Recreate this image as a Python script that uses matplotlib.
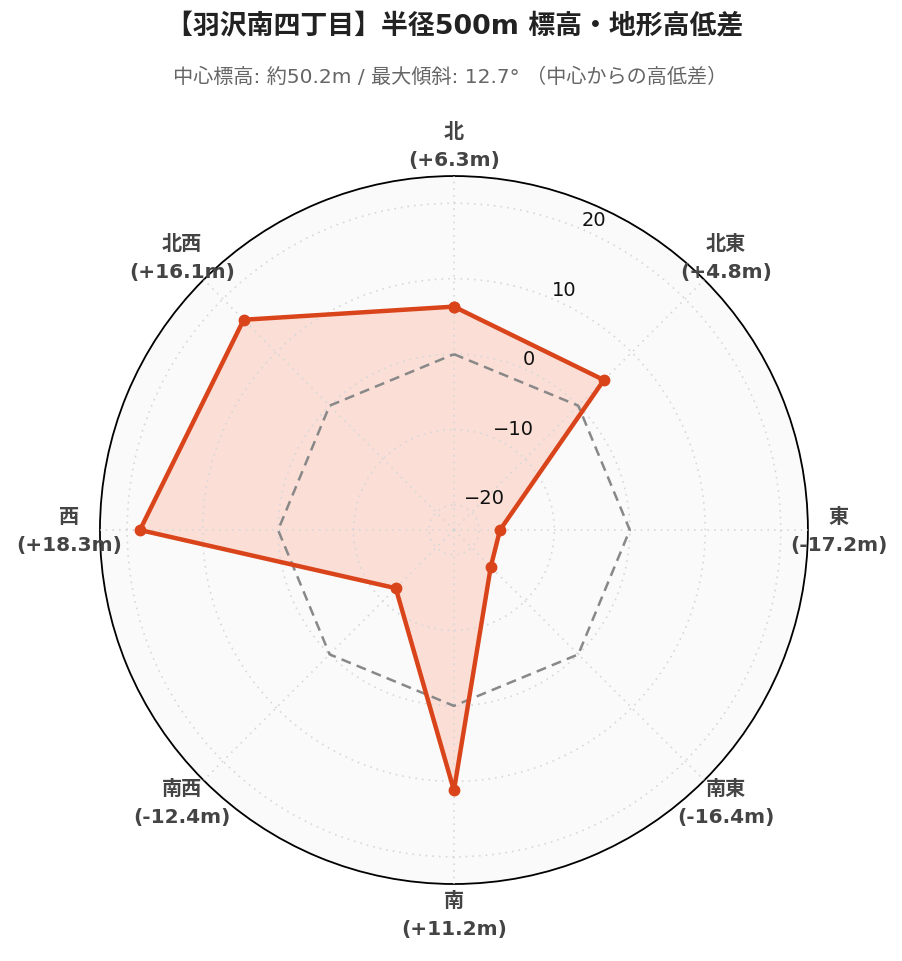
import numpy as np
import matplotlib
matplotlib.use("Agg")
import matplotlib.pyplot as plt

plt.rcParams['font.family'] = ['DejaVu Sans', 'Noto Sans CJK JP']

# data
directions = ["北", "北東", "東", "南東", "南", "南西", "西", "北西"]
diffs = [6.3, 4.8, -17.2, -16.4, 11.2, -12.4, 18.3, 16.1]
rticks = [-20, -10, 0, 10, 20]
rmin, rmax = -23.3, 23.6

title = "【羽沢南四丁目】半径500m 標高・地形高低差"
subtitle = "中心標高: 約50.2m / 最大傾斜: 12.7° （中心からの高低差）"

line_color = "#d9441a"
fill_color = "#fcd5cb"

angles = np.deg2rad(np.arange(len(directions)) * 45.0)
theta = np.append(angles, angles[0])
vals = np.append(diffs, diffs[0])

fig = plt.figure(figsize=(9.03, 9.62), dpi=100)
ax = fig.add_axes([0.1107, 0.080, 0.784, 0.736], projection='polar')
ax.set_theta_zero_location('N')
ax.set_theta_direction(-1)
ax.set_facecolor('#fafafa')
ax.set_ylim(rmin, rmax)
ax.set_axisbelow(False)

# zero reference (dashed)
ax.plot(theta, np.zeros_like(theta), color='#888888', lw=1.8, ls=(0, (4, 2.5)), zorder=3)

# elevation difference polygon
ax.fill(theta, vals, color=fill_color, alpha=0.75, zorder=2)
ax.plot(theta, vals, color=line_color, lw=3.2, marker='o', ms=7.5, zorder=4)

# grid
ax.set_xticks(angles)
ax.set_xticklabels([])
ax.set_yticks(rticks)
ax.set_yticklabels([str(t).replace('-', '\u2212') for t in rticks], fontsize=14, color='#111111')
ax.set_rlabel_position(23)
ax.grid(True, color='#d8d8d8', ls=(0, (1, 3)), lw=1.2)
ax.spines['polar'].set_color('black')
ax.spines['polar'].set_linewidth(1.3)

# direction labels
rr = 385 / 708
for a, d, v in zip(angles, directions, diffs):
    x = 0.5 + rr * np.sin(a)
    y = 0.5 + rr * np.cos(a)
    ax.text(x, y, "%s\n(%+.1fm)" % (d, v), transform=ax.transAxes, ha='center', va='center',
            fontsize=14.5, fontweight='bold', color='#444444', linespacing=1.6)

fig.text(0.503, 0.971, title, ha='center', va='center', fontsize=19.4, fontweight='bold', color='#222222')
fig.text(0.498, 0.920, subtitle, ha='center', va='center', fontsize=14.5, color='#666666')

fig.savefig('out.png', dpi=100)
